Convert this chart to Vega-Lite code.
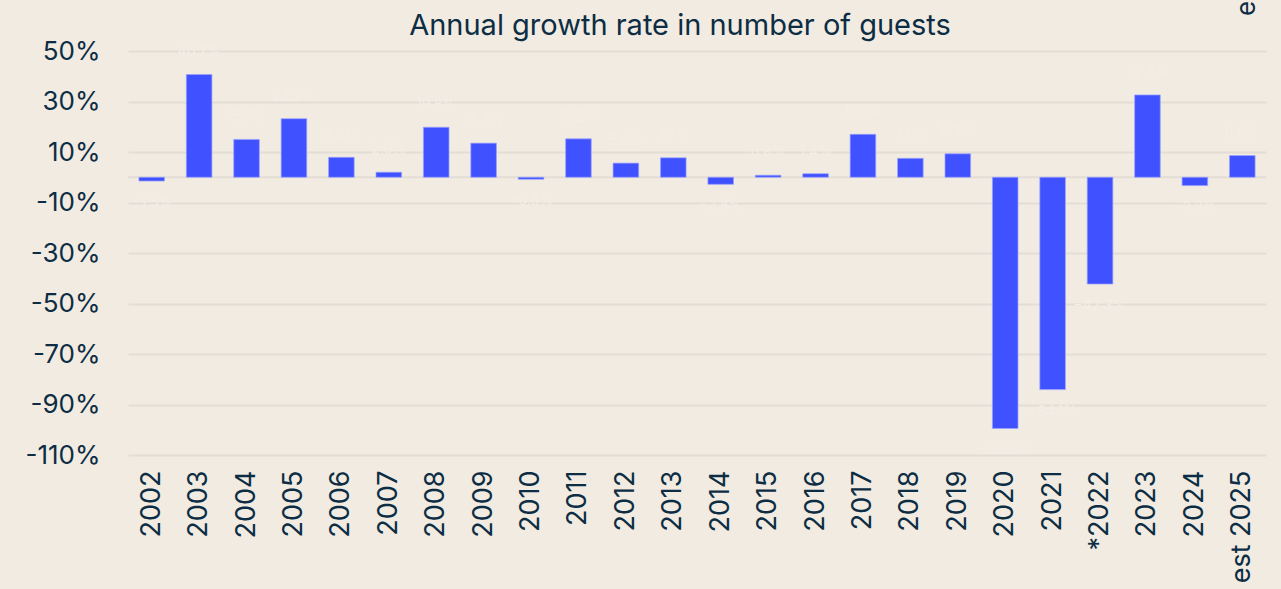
{
  "$schema": "https://vega.github.io/schema/vega-lite/v6.json",
  "autosize": {"type": "none"},
  "width": 1138,
  "height": 404,
  "padding": {"left": 128, "top": 51, "right": 15, "bottom": 134},
  "background": "#f2ebe1",
  "config": {
    "view": {"stroke": null},
    "font": "Inter",
    "axis": {"labelFont": "Inter", "labelColor": "#0c2d44", "domain": false, "ticks": false},
    "title": {"font": "Inter", "color": "#0c2d44"}
  },
  "title": {"text": "Annual growth rate in number of guests", "fontSize": 29, "fontWeight": "normal", "anchor": "middle", "offset": -40, "dx": -17},
  "datasets": {
    "growth": [
      {"year": "2002", "v": -0.015},
      {"year": "2003", "v": 0.407},
      {"year": "2004", "v": 0.150},
      {"year": "2005", "v": 0.232},
      {"year": "2006", "v": 0.079},
      {"year": "2007", "v": 0.020},
      {"year": "2008", "v": 0.198},
      {"year": "2009", "v": 0.135},
      {"year": "2010", "v": -0.008},
      {"year": "2011", "v": 0.152},
      {"year": "2012", "v": 0.056},
      {"year": "2013", "v": 0.077},
      {"year": "2014", "v": -0.028},
      {"year": "2015", "v": 0.008},
      {"year": "2016", "v": 0.014},
      {"year": "2017", "v": 0.170},
      {"year": "2018", "v": 0.075},
      {"year": "2019", "v": 0.093},
      {"year": "2020", "v": -0.995},
      {"year": "2021", "v": -0.841},
      {"year": "*2022", "v": -0.423},
      {"year": "2023", "v": 0.326},
      {"year": "2024", "v": -0.033},
      {"year": "est 2025", "v": 0.086}
    ],
    "corner": [{"year": "est 2025", "v": 0.673, "t": "e"}],
    "zero": [{"v": 0}]
  },
  "layer": [
    {
      "data": {"name": "zero"},
      "mark": {"type": "rule", "color": "#e2ddd5", "strokeWidth": 2},
      "encoding": {"y": {"field": "v", "type": "quantitative", "scale": {"domain": [-1.1, 0.5], "nice": false, "zero": false}}}
    },
    {
      "data": {"name": "growth"},
      "mark": {"type": "bar", "color": "#4052ff", "stroke": "#9aa2ff", "strokeWidth": 1, "strokeOpacity": 0.7},
      "encoding": {
        "x": {"field": "year", "type": "nominal", "sort": null,
              "scale": {"paddingInner": 0.46, "paddingOuter": 0.23},
              "axis": {"title": null, "labelAngle": -90, "labelFontSize": 27, "labelPadding": 15, "grid": false}},
        "y": {"field": "v", "type": "quantitative",
              "scale": {"domain": [-1.1, 0.5], "nice": false, "zero": false},
              "axis": {"title": null, "values": [-1.1, -0.9, -0.7, -0.5, -0.3, -0.1, 0.1, 0.3, 0.5],
                       "labelExpr": "replace(format(datum.value, '.0%'), '\u2212', '-')",
                       "labelFontSize": 26, "labelPadding": 28, "gridColor": "#e2ddd5", "gridWidth": 2}}
      }
    },
    {
      "data": {"name": "growth"},
      "transform": [{"filter": "datum.v >= 0"}],
      "mark": {"type": "text", "fontSize": 14, "color": "#f3eee6", "baseline": "middle", "dy": -22},
      "encoding": {
        "x": {"field": "year", "type": "nominal", "sort": null},
        "y": {"field": "v", "type": "quantitative"},
        "text": {"field": "v", "type": "quantitative", "format": ".1%"}
      }
    },
    {
      "data": {"name": "growth"},
      "transform": [{"filter": "datum.v < 0"}],
      "mark": {"type": "text", "fontSize": 14, "color": "#f3eee6", "baseline": "middle", "dy": 22},
      "encoding": {
        "x": {"field": "year", "type": "nominal", "sort": null},
        "y": {"field": "v", "type": "quantitative"},
        "text": {"field": "v", "type": "quantitative", "format": ".1%"}
      }
    },
    {
      "data": {"name": "corner"},
      "mark": {"type": "text", "fontSize": 26, "color": "#0c2d44", "angle": 270, "dy": 5, "dx": -1, "baseline": "middle", "align": "center"},
      "encoding": {
        "x": {"field": "year", "type": "nominal", "sort": null},
        "y": {"field": "v", "type": "quantitative"},
        "text": {"field": "t"}
      }
    }
  ]
}
